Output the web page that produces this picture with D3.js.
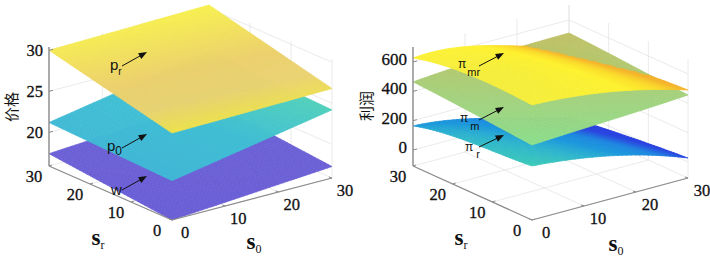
<!DOCTYPE html>
<html>
<head>
<meta charset="utf-8">
<script src="https://cdn.jsdelivr.net/npm/d3@7"></script>
<style>
html, body { margin: 0; padding: 0; background: #fff; }
text { font-family: "Liberation Serif", serif; fill: #111; }
</style>
</head>
<body>
<svg id="chart" width="710" height="260"></svg>
<script>
// rows are s_r, columns are s_0 (both read at the listed nodes)
const nodes2 = [0, 30];
const nodes4 = [0, 10, 20, 30];

const s0Ticks = [0, 10, 20, 30];
const srTicks = [0, 10, 20, 30];
const priceTicks = [20, 25, 30];
const profitTicks = [0, 200, 400, 600];

const wValues = [[15.9, 17.3], [17.4, 18.7]];
const p0Values = [[20.7, 24.2], [21.2, 24.7]];
const prValues = [[26.5, 26.8], [30.0, 30.4]];

const piRValues = [
    [259, 218, 143, 27],
    [239, 193, 112, 3],
    [218, 163, 77, -27],
    [164, 116, 27, -61]
];
const piMValues = [
    [402, 420, 436, 457],
    [425, 443, 460, 475],
    [447, 466, 482, 495],
    [464, 490, 505, 511]
];
const piMrValues = [
    [675, 648, 586, 491],
    [689, 656, 576, 470],
    [678, 646, 554, 443],
    [627, 609, 518, 416]
];

const svg = d3.select('#chart');
const meshSteps = 36;

// smooth value between the read nodes, only used to shade the mesh
const lagrange = (xs, ys, x) => d3.sum(xs, (xi, i) => {
    let term = ys[i];
    xs.forEach((xj, j) => {
        if (j !== i) term *= (x - xj) / (xi - xj);
    });
    return term;
});
const sampleGrid = (nodes, grid, s0, sr) =>
    lagrange(nodes, grid.map(row => lagrange(nodes, row, s0)), sr);

const drawPanel = (panel) => {
    const xS0 = d3.scaleLinear([0, 30], [0, panel.s0Vec[0]]);
    const yS0 = d3.scaleLinear([0, 30], [0, panel.s0Vec[1]]);
    const xSr = d3.scaleLinear([0, 30], [0, panel.srVec[0]]);
    const ySr = d3.scaleLinear([0, 30], [0, panel.srVec[1]]);
    const zPx = d3.scaleLinear(panel.zDomain, [0, panel.zHeight]);
    const floorY = (s0, sr) => panel.origin[1] + yS0(s0) + ySr(sr);
    const project = (s0, sr, z) => [
        panel.origin[0] + xS0(s0) + xSr(sr),
        floorY(s0, sr) - zPx(z)
    ];
    const [zMin, zMax] = panel.zDomain;
    const g = svg.append('g');

    const segment = (a, b, stroke, width) => g.append('line')
        .attr('x1', a[0]).attr('y1', a[1])
        .attr('x2', b[0]).attr('y2', b[1])
        .attr('stroke', stroke)
        .attr('stroke-width', width);

    // back walls and floor
    const gridColour = '#e4e4e4';
    s0Ticks.forEach(t => {
        segment(project(t, 0, zMin), project(t, 30, zMin), gridColour, 0.8);
        segment(project(t, 30, zMin), project(t, 30, zMax), gridColour, 0.8);
    });
    srTicks.forEach(t => {
        segment(project(0, t, zMin), project(30, t, zMin), gridColour, 0.8);
        segment(project(30, t, zMin), project(30, t, zMax), gridColour, 0.8);
    });
    panel.zTicks.forEach(t => {
        segment(project(0, 30, t), project(30, 30, t), gridColour, 0.8);
        segment(project(30, 30, t), project(30, 0, t), gridColour, 0.8);
    });

    // all surfaces are cut into one cell list and painted back to front
    const step = d3.scaleLinear([0, meshSteps], [0, 30]);
    const cells = [];
    panel.surfaces.forEach(surface => {
        const z = (a, b) => sampleGrid(surface.nodes, surface.values, step(a), step(b));
        d3.range(meshSteps).forEach(i => d3.range(meshSteps).forEach(j => {
            const corners = [[i, j], [i + 1, j], [i + 1, j + 1], [i, j + 1]]
                .map(([a, b]) => project(step(a), step(b), z(a, b)));
            const zMid = z(i + 0.5, j + 0.5);
            cells.push({
                d: 'M' + corners.map(c => c.map(v => v.toFixed(2)).join(',')).join('L') + 'Z',
                fill: surface.colour(zMid),
                depth: 0.36 * zPx(zMid) + 2.77 * floorY(step(i + 0.5), step(j + 0.5))
            });
        }));
    });
    g.append('g').selectAll('path')
        .data(d3.sort(cells, d => d.depth))
        .join('path')
        .attr('d', d => d.d)
        .attr('fill', d => d.fill)
        .attr('stroke', d => d.fill)
        .attr('stroke-width', 0.7);

    // axes
    const axisColour = '#8c8c8c';
    segment(project(0, 30, zMin), project(0, 30, zMax), axisColour, 1.4);
    segment(project(0, 30, zMin), project(0, 0, zMin), axisColour, 1.2);
    segment(project(0, 0, zMin), project(30, 0, zMin), axisColour, 1.2);

    const tickText = (x, y, size, anchor, label) => g.append('text')
        .attr('x', x).attr('y', y)
        .attr('text-anchor', anchor)
        .attr('dominant-baseline', 'middle')
        .attr('font-size', size)
        .attr('stroke', '#111').attr('stroke-width', 0.3)
        .text(label);

    panel.zTicks.forEach(t => {
        const [x, y] = project(0, 30, t);
        segment([x, y], [x + 4, y - 1], axisColour, 1);
        tickText(x - 6, y + panel.zLabelDy, panel.zFontSize, 'end', t);
    });
    srTicks.forEach(t => {
        const [x, y] = project(0, t, zMin);
        segment([x, y], [x + 3, y - 1], axisColour, 1);
        tickText(x + panel.srLabelShift[0], y + panel.srLabelShift[1], 16.5, 'middle', t);
    });
    s0Ticks.forEach(t => {
        const [x, y] = project(t, 0, zMin);
        segment([x, y], [x - 3, y - 1], axisColour, 1);
        tickText(x + panel.s0LabelShift[0], y + panel.s0LabelShift[1], 16.5, 'middle', t);
    });

    const axisName = (pos, sub) => {
        const t = g.append('text')
            .attr('x', pos[0]).attr('y', pos[1])
            .attr('text-anchor', 'middle')
            .attr('font-size', 23)
            .attr('font-weight', 'bold')
            .text('s');
        t.append('tspan')
            .attr('font-size', 12)
            .attr('font-weight', 'normal')
            .attr('dy', 4)
            .text(sub);
    };
    axisName(panel.srName, 'r');
    axisName(panel.s0Name, '0');

    g.append('text')
        .attr('transform', `translate(${panel.zName[0]},${panel.zName[1]}) rotate(-90)`)
        .attr('text-anchor', 'middle')
        .attr('dominant-baseline', 'middle')
        .style('font-family', '"Noto Sans CJK SC"')
        .attr('font-size', 15)
        .text(panel.zTitle);

    // arrows with their curve labels
    panel.notes.forEach(note => {
        const [x1, y1, x2, y2] = note.arrow;
        const angle = Math.atan2(y2 - y1, x2 - x1);
        const head = (len, off) => [
            x2 - len * Math.cos(angle + off),
            y2 - len * Math.sin(angle + off)
        ];
        segment([x1, y1], head(5, 0), '#111', 1);
        g.append('path')
            .attr('d', d3.line()([[x2, y2], head(9, 0.38), head(9, -0.38)]) + 'Z')
            .attr('fill', '#111');
        const label = g.append('text')
            .style('font-family', '"Liberation Sans", sans-serif')
            .attr('x', note.at[0]).attr('y', note.at[1])
            .attr('font-size', note.size)
            .text(note.name);
        label.append('tspan')
            .attr('font-size', note.subSize)
            .attr('dx', note.gap)
            .attr('dy', note.drop)
            .text(note.sub);
    });
};

drawPanel({
    origin: [172, 220],
    s0Vec: [160, -42],
    srVec: [-123, -54],
    zDomain: [15.9, 30.4],
    zHeight: 119,
    zTicks: priceTicks,
    zFontSize: 16.5,
    zLabelDy: 2,
    zTitle: '价格',
    zName: [13, 107],
    srLabelShift: [-15, 12],
    s0LabelShift: [13, 14],
    srName: [98, 245],
    s0Name: [254, 249],
    surfaces: [
        { nodes: nodes2, values: wValues,
          colour: d3.scaleLinear([15.9, 18.7], ['#6a5ed6', '#6c62d6']).clamp(true) },
        { nodes: nodes2, values: p0Values,
          colour: d3.scaleLinear([20.7, 22.5, 24.7], ['#41b8d6', '#40bfd4', '#55d4b6']).clamp(true) },
        { nodes: nodes2, values: prValues,
          colour: d3.scaleLinear([26.5, 27.4, 28.4, 30.4], ['#eee24c', '#ead272', '#ecd06c', '#f7f04f']).clamp(true) }
    ],
    notes: [
        { name: 'p', sub: 'r', at: [110, 70], size: 15, subSize: 10, gap: 0, drop: 5, arrow: [122, 66, 147, 52] },
        { name: 'p', sub: '0', at: [107, 151], size: 15, subSize: 12, gap: 0, drop: 4, arrow: [122, 148, 147, 134] },
        { name: 'w', sub: '', at: [111, 195], size: 15, subSize: 10, gap: 0, drop: 0, arrow: [122, 190, 147, 176] }
    ]
});

drawPanel({
    origin: [532, 220],
    s0Vec: [156, -42],
    srVec: [-119, -54],
    zDomain: [-109, 702],
    zHeight: 119,
    zTicks: profitTicks,
    zFontSize: 17,
    zLabelDy: -1,
    zTitle: '利润',
    zName: [368, 106],
    srLabelShift: [-15, 12],
    s0LabelShift: [14, 14],
    srName: [461, 245],
    s0Name: [616, 251],
    surfaces: [
        { nodes: nodes4, values: piRValues,
          colour: d3.scaleLinear([-61, 27, 100, 164, 220, 259], ['#2b3ce0', '#2a45e0', '#1f86e0', '#1c98dc', '#2fb6cc', '#3bc9b8']).clamp(true) },
        { nodes: nodes4, values: piMValues,
          colour: d3.scaleLinear([402, 450, 511], ['#8edf8c', '#a3d27e', '#bfc166']).clamp(true) },
        { nodes: nodes4, values: piMrValues,
          colour: d3.scaleLinear([416, 500, 550, 600, 690], ['#eca632', '#f6b52c', '#fbdc2c', '#fff230', '#f6ee3e']).clamp(true) }
    ],
    notes: [
        { name: 'π', sub: 'mr', at: [458, 68], size: 12, subSize: 11, gap: 1, drop: 8, arrow: [479, 66, 504, 53] },
        { name: 'π', sub: 'm', at: [460, 122], size: 12, subSize: 11, gap: 2, drop: 8, arrow: [479, 120, 504, 107] },
        { name: 'π', sub: 'r', at: [465, 151], size: 12, subSize: 11, gap: 3, drop: 7, arrow: [479, 147, 504, 135] }
    ]
});
</script>
</body>
</html>
